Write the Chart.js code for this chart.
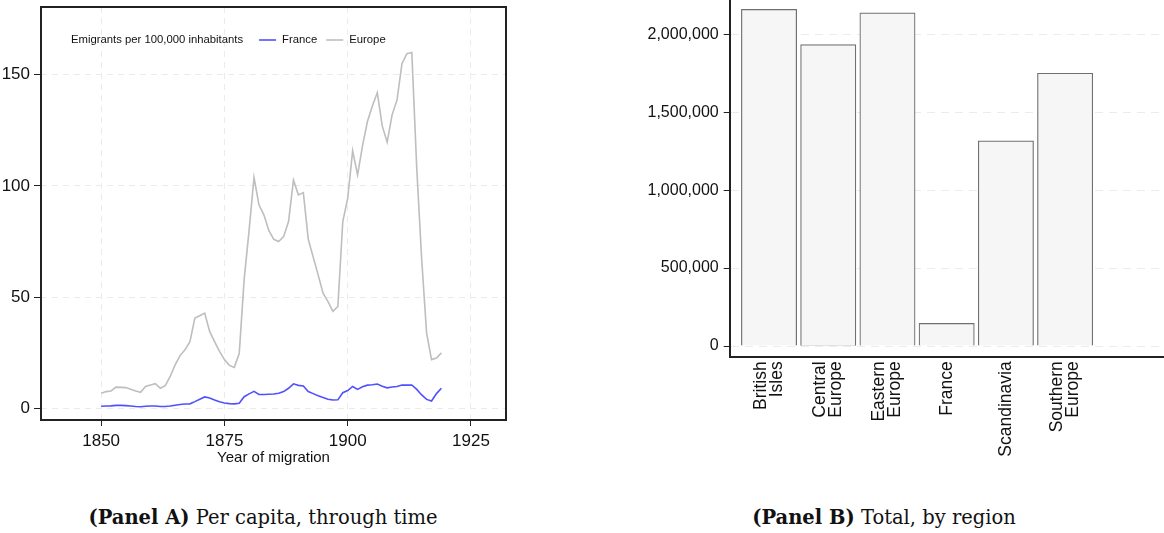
<!DOCTYPE html>
<html lang="en">
<head>
  <meta charset="UTF-8">
  <title>Emigration: per capita and by region</title>
  <script src="https://cdn.jsdelivr.net/npm/chart.js"></script>
  <style>
    body { margin: 0; background: #fff; width: 1164px; height: 533px; position: relative; overflow: hidden; }
    canvas { position: absolute; top: 0; }
    #lineChart { left: 0; }
    #barChart { left: 580px; }
    .caption {
      position: absolute; top: 506px; transform: translateX(-50%);
      font-family: "DejaVu Serif", serif; font-size: 19.5px; line-height: 23px; color: #111; white-space: nowrap;
    }
  </style>
</head>
<body>
  <!-- Panel A: line chart -->
  <canvas id="lineChart" width="540" height="467"></canvas>
  <div class="caption" style="left:263px"><b>(Panel A)</b> Per capita, through time</div>

  <!-- Panel B: bar chart -->
  <canvas id="barChart" width="584" height="470"></canvas>
  <div class="caption" style="left:884px"><b>(Panel B)</b> Total, by region</div>

  <script>
    // Panel A data: emigrants per 100,000 inhabitants
    const years = [1850, 1851, 1852, 1853, 1854, 1855, 1856, 1857, 1858, 1859,
                   1860, 1861, 1862, 1863, 1864, 1865, 1866, 1867, 1868, 1869,
                   1870, 1871, 1872, 1873, 1874, 1875, 1876, 1877, 1878, 1879,
                   1880, 1881, 1882, 1883, 1884, 1885, 1886, 1887, 1888, 1889,
                   1890, 1891, 1892, 1893, 1894, 1895, 1896, 1897, 1898, 1899,
                   1900, 1901, 1902, 1903, 1904, 1905, 1906, 1907, 1908, 1909,
                   1910, 1911, 1912, 1913, 1914, 1915, 1916, 1917, 1918, 1919];
    const franceRate = [0.9, 1.0, 1.1, 1.3, 1.3, 1.2, 1.0, 0.8, 0.7, 0.9,
                        1.0, 1.0, 0.8, 0.8, 1.0, 1.4, 1.7, 1.9, 2.0, 3.0,
                        4.1, 5.1, 4.6, 3.7, 2.9, 2.4, 2.1, 2.0, 2.3, 5.2,
                        6.5, 7.6, 6.2, 6.2, 6.3, 6.4, 6.8, 7.5, 9.0, 11.0,
                        10.3, 10.0, 7.5, 6.6, 5.6, 4.8, 4.1, 3.7, 3.8, 7.0,
                        8.0, 9.8, 8.5, 9.7, 10.4, 10.6, 10.9, 9.9, 9.2, 9.6,
                        9.8, 10.5, 10.4, 10.5, 8.5, 6.0, 4.0, 3.3, 6.6, 9.0];
    const europeRate = [6.8, 7.5, 7.8, 9.5, 9.4, 9.3, 8.6, 7.8, 7.2, 9.8,
                        10.5, 11.1, 9.0, 10.2, 14.3, 19.5, 23.7, 26.3, 30.0, 40.6,
                        41.6, 42.8, 34.6, 30.0, 25.6, 21.9, 19.3, 18.4, 24.6, 58.0,
                        80.0, 103.8, 91.5, 87.0, 80.0, 76.0, 75.0, 77.2, 84.0, 102.6,
                        96.0, 97.0, 76.0, 68.0, 60.0, 51.8, 48.0, 43.6, 45.8, 84.0,
                        94.5, 115.8, 105.0, 118.0, 129.0, 136.0, 142.0, 127.0, 119.7, 132.0,
                        138.7, 155.0, 159.5, 160.0, 108.0, 67.0, 33.8, 21.9, 22.6, 24.9];
    const yearTicks = [1850, 1875, 1900, 1925];
    const rateTicks = [0, 50, 100, 150];

    // Panel B data: total emigrants by region
    const regions = [['British', 'Isles'], ['Central', 'Europe'], ['Eastern', 'Europe'],
                     ['France'], ['Scandinavia'], ['Southern', 'Europe']];
    const regionTotals = [2160000, 1934000, 2137000, 145000, 1316000, 1750000];
    const totalTicks = [0, 500000, 1000000, 1500000, 2000000];

    Chart.defaults.font.family = '"Liberation Sans", Arial, sans-serif';
    Chart.defaults.color = '#111';

    // pin axis sizes so the plot areas land where the original has them
    function fixWidth(w) {
      return s => { s.width = w; s.paddingTop = 0; s.paddingBottom = 0; };
    }
    function fixHeight(h) {
      return s => { s.height = h; s.paddingLeft = 0; s.paddingRight = 0; };
    }

    // legend sits inside the plot, on one line, with a leading title
    const inlineLegend = {
      id: 'inlineLegend',
      afterDatasetsDraw(chart) {
        const ctx = chart.ctx;
        const { left, top } = chart.chartArea;
        const title = 'Emigrants per 100,000 inhabitants';
        let x = left + 30;
        const y = top + 33;
        ctx.save();
        ctx.font = '11.3px "Liberation Sans", Arial, sans-serif';
        ctx.textBaseline = 'middle';
        ctx.fillStyle = '#111';
        ctx.fillText(title, x, y);
        x += ctx.measureText(title).width + 16;
        chart.data.datasets.forEach(ds => {
          ctx.strokeStyle = ds.borderColor;
          ctx.lineWidth = 1.6;
          ctx.beginPath();
          ctx.moveTo(x, y);
          ctx.lineTo(x + 17, y);
          ctx.stroke();
          x += 23;
          ctx.fillText(ds.label, x, y);
          x += ctx.measureText(ds.label).width + 9;
        });
        ctx.restore();
      }
    };

    // full box around the plot area
    const frame = {
      id: 'frame',
      afterDraw(chart) {
        const a = chart.chartArea;
        const ctx = chart.ctx;
        ctx.save();
        ctx.strokeStyle = '#222';
        ctx.lineWidth = 2;
        ctx.strokeRect(a.left, a.top, a.right - a.left, a.bottom - a.top);
        ctx.restore();
      }
    };

    new Chart(document.getElementById('lineChart'), {
      type: 'line',
      data: {
        datasets: [
          {
            label: 'France',
            data: years.map((yr, i) => ({ x: yr, y: franceRate[i] })),
            borderColor: '#5050ff',
            borderWidth: 1.6,
            pointRadius: 0,
            tension: 0
          },
          {
            label: 'Europe',
            data: years.map((yr, i) => ({ x: yr, y: europeRate[i] })),
            borderColor: '#bebebe',
            borderWidth: 1.6,
            pointRadius: 0,
            tension: 0
          }
        ]
      },
      options: {
        responsive: false,
        animation: false,
        layout: { padding: { top: 7, right: 34, left: 0, bottom: 0 } },
        plugins: { legend: { display: false }, tooltip: { enabled: false } },
        scales: {
          x: {
            type: 'linear',
            min: 1837.8,
            max: 1932.1,
            afterBuildTicks: s => { s.ticks = yearTicks.map(v => ({ value: v })); },
            afterFit: fixHeight(47),
            ticks: { callback: v => String(v), font: { size: 17 }, padding: 5, maxRotation: 0 },
            grid: { color: '#ebebeb', tickColor: '#222', tickLength: 6, tickBorderDash: [] },
            border: { display: false, dash: [6, 5] },
            title: { display: true, text: 'Year of migration', font: { size: 15 }, padding: 0 }
          },
          y: {
            min: -5.27,
            max: 180.5,
            afterBuildTicks: s => { s.ticks = rateTicks.map(v => ({ value: v })); },
            afterFit: fixWidth(41),
            ticks: { callback: v => String(v), font: { size: 17 }, padding: 4 },
            grid: { color: '#ebebeb', tickColor: '#222', tickLength: 7, tickBorderDash: [] },
            border: { display: false, dash: [6, 5] }
          }
        }
      },
      plugins: [inlineLegend, frame]
    });

    new Chart(document.getElementById('barChart'), {
      type: 'bar',
      data: {
        datasets: [{
          data: regionTotals.map((v, i) => ({ x: i + 1, y: v })),
          backgroundColor: '#f6f6f6',
          borderColor: '#707070',
          borderWidth: 1.2,
          barThickness: 55.3
        }]
      },
      options: {
        responsive: false,
        animation: false,
        layout: { padding: 0 },
        plugins: { legend: { display: false }, tooltip: { enabled: false } },
        scales: {
          x: {
            type: 'linear',
            offset: false,
            min: 0.336,
            max: 7.67,
            // two-line labels are centred as a pair on the bar
            afterBuildTicks: s => {
              s.ticks = regions.map((r, i) => ({ value: i + 1 - (r.length - 1) * 0.135 }));
            },
            afterFit: fixHeight(112.7),
            ticks: {
              callback: (v, i) => regions[i],
              autoSkip: false,
              minRotation: 90,
              maxRotation: 90,
              font: { size: 17.5, lineHeight: 0.915 },
              padding: 4
            },
            grid: { display: false, drawTicks: false, offset: false },
            border: { color: '#222', width: 2 }
          },
          y: {
            min: -72500,
            max: 2220000,
            afterBuildTicks: s => { s.ticks = totalTicks.map(v => ({ value: v })); },
            afterFit: fixWidth(149.7),
            ticks: { callback: v => v.toLocaleString('en-US'), font: { size: 16 }, padding: 5 },
            grid: { color: '#ececec', tickColor: '#222', tickLength: 6, tickBorderDash: [] },
            border: { color: '#222', width: 2, dash: [8, 6] }
          }
        }
      }
    });
  </script>
</body>
</html>
